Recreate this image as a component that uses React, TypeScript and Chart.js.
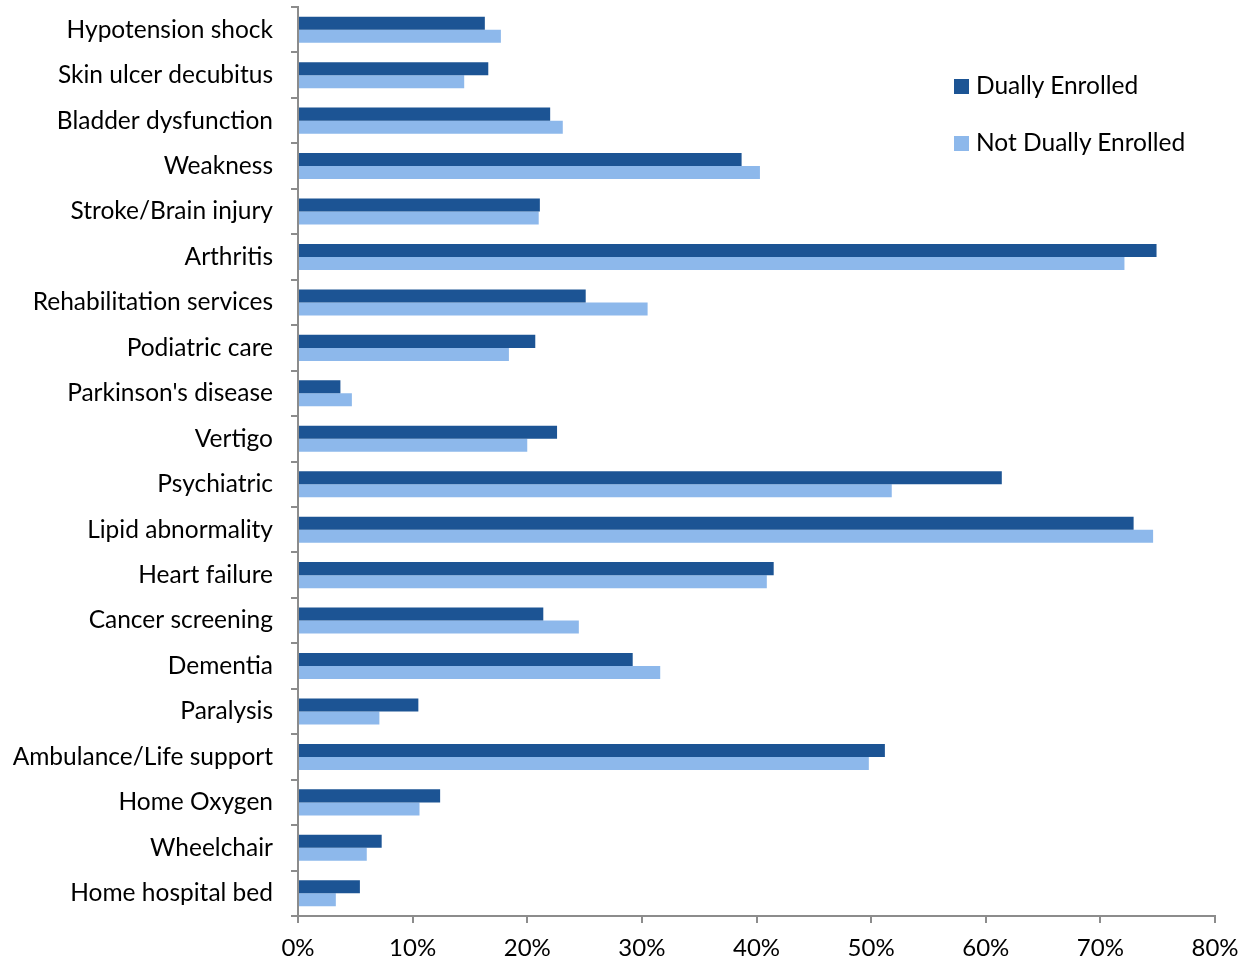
import React, { useEffect, useRef } from "react";
import { Chart, registerables } from "chart.js";

Chart.register(...registerables);

const categories = [
  "Hypotension shock",
  "Skin ulcer decubitus",
  "Bladder dysfunction",
  "Weakness",
  "Stroke/Brain injury",
  "Arthritis",
  "Rehabilitation services",
  "Podiatric care",
  "Parkinson's disease",
  "Vertigo",
  "Psychiatric",
  "Lipid abnormality",
  "Heart failure",
  "Cancer screening",
  "Dementia",
  "Paralysis",
  "Ambulance/Life support",
  "Home Oxygen",
  "Wheelchair",
  "Home hospital bed",
];

const duallyEnrolled = [
  16.3, 16.6, 22.0, 38.7, 21.1, 74.9, 25.1, 20.7, 3.7, 22.6,
  61.4, 72.9, 41.5, 21.4, 29.2, 10.5, 51.2, 12.4, 7.3, 5.4,
];

const notDuallyEnrolled = [
  17.7, 14.5, 23.1, 40.3, 21.0, 72.1, 30.5, 18.4, 4.7, 20.0,
  51.8, 74.6, 40.9, 24.5, 31.6, 7.1, 49.8, 10.6, 6.0, 3.3,
];

const xTicks = [0, 10, 20, 30, 40, 50, 60, 70, 80];

const seriesNames = ["Dually Enrolled", "Not Dually Enrolled"];
const seriesColors = ["#1C5494", "#8DB8EB"];

const FONT = "Lato, 'Open Sans', sans-serif";
const AXIS_COLOR = "#8C8C8C";

export default function App() {
  const canvasRef = useRef<HTMLCanvasElement | null>(null);

  useEffect(() => {
    const canvas = canvasRef.current;
    if (!canvas) return;
    const chart = new Chart(canvas, {
      type: "bar",
      data: {
        labels: categories,
        datasets: [
          {
            label: seriesNames[0],
            data: duallyEnrolled,
            backgroundColor: seriesColors[0],
            categoryPercentage: 0.573,
            barPercentage: 1.0,
          },
          {
            label: seriesNames[1],
            data: notDuallyEnrolled,
            backgroundColor: seriesColors[1],
            categoryPercentage: 0.573,
            barPercentage: 1.0,
          },
        ],
      },
      options: {
        indexAxis: "y",
        animation: false,
        responsive: false,
        maintainAspectRatio: false,
        devicePixelRatio: 1,
        layout: { padding: { top: 7, right: 37, left: 0, bottom: 0 } },
        plugins: {
          legend: { display: false },
          tooltip: { enabled: false },
        },
        scales: {
          x: {
            type: "linear",
            min: 0,
            max: 80,
            afterBuildTicks: (scale: any) => {
              scale.ticks = xTicks.map((v) => ({ value: v }));
            },
            afterFit: (scale: any) => {
              scale.height = 51;
              scale.paddingLeft = 0;
              scale.paddingRight = 0;
            },
            ticks: {
              callback: (v: any) => `${v}%`,
              color: "#000",
              font: { family: FONT, size: 24 },
              padding: 11,
              maxRotation: 0,
            },
            grid: {
              drawOnChartArea: false,
              drawTicks: true,
              tickLength: 7,
              color: AXIS_COLOR,
              lineWidth: 2,
            },
            border: { color: AXIS_COLOR, width: 2 },
          },
          y: {
            type: "category",
            afterFit: (scale: any) => {
              scale.width = 298;
              scale.paddingTop = 0;
              scale.paddingBottom = 0;
            },
            ticks: {
              color: "#000",
              font: { family: FONT, size: 24.5 },
              padding: 18,
              autoSkip: false,
            },
            grid: {
              offset: true,
              drawOnChartArea: false,
              drawTicks: true,
              tickLength: 7,
              color: AXIS_COLOR,
              lineWidth: 2,
            },
            border: { color: AXIS_COLOR, width: 2 },
          },
        },
      },
    });
    return () => chart.destroy();
  }, []);

  const legendItem = (i: number, top: number) => (
    <div key={i}>
      <div
        style={{
          position: "absolute",
          left: 954,
          top: top,
          width: 15,
          height: 15,
          background: seriesColors[i],
        }}
      />
      <div
        style={{
          position: "absolute",
          left: 976,
          top: top - 9,
          fontFamily: FONT,
          fontSize: 24.5,
          lineHeight: "normal",
          color: "#000",
          whiteSpace: "nowrap",
        }}
      >
        {seriesNames[i]}
      </div>
    </div>
  );

  return (
    <div
      style={{
        position: "absolute",
        left: 0,
        top: 0,
        width: 1252,
        height: 967,
        background: "#fff",
      }}
    >
      <canvas ref={canvasRef} width={1252} height={967} style={{ display: "block" }} />
      {legendItem(0, 79)}
      {legendItem(1, 136)}
    </div>
  );
}
